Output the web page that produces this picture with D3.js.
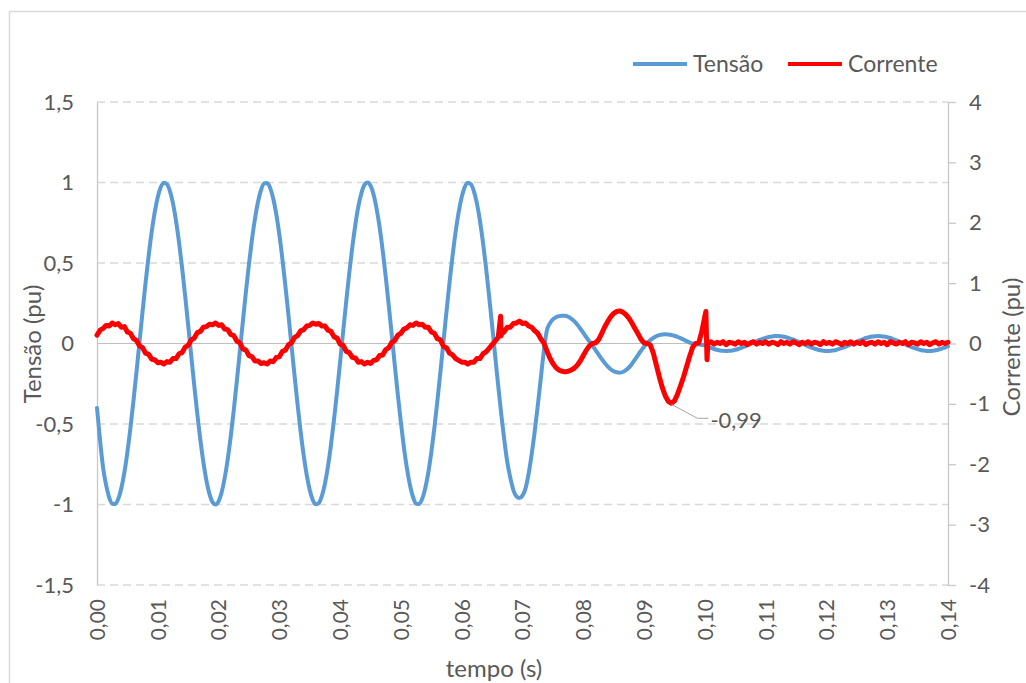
<!DOCTYPE html>
<html>
<head>
<meta charset="utf-8">
<script src="https://cdn.jsdelivr.net/npm/d3@7"></script>
<style>
  html, body { margin: 0; padding: 0; background: #fff; }
  svg { display: block; }
  text { font-family: Lato, "Open Sans", sans-serif; fill: #595959; }
</style>
</head>
<body>
<svg id="chart" width="1026" height="683"></svg>
<script>
// Sampling interval of the recorded waveforms (s)
const timeStep = 0.0005;

// Tensão (pu), one sample every 0.5 ms from 0 to 0.14 s
const tensao = [
  -0.40, -0.60, -0.77, -0.88, -0.955, -0.994, -0.997, -0.965, -0.899, -0.802,
  -0.675, -0.525, -0.356, -0.175, 0.013, 0.200, 0.380, 0.546, 0.694, 0.816,
  0.910, 0.972, 0.999, 0.990, 0.947, 0.870, 0.762, 0.627, 0.471, 0.297,
  0.113, -0.075, -0.261, -0.437, -0.598, -0.737, -0.851, -0.934, -0.985, -1.000,
  -0.980, -0.925, -0.837, -0.720, -0.578, -0.414, -0.236, -0.050, 0.138, 0.321,
  0.493, 0.647, 0.778, 0.882, 0.955, 0.994, 0.997, 0.965, 0.899, 0.802,
  0.675, 0.525, 0.356, 0.175, -0.013, -0.200, -0.380, -0.546, -0.694, -0.816,
  -0.910, -0.972, -0.999, -0.990, -0.947, -0.870, -0.762, -0.627, -0.471, -0.297,
  -0.113, 0.075, 0.261, 0.437, 0.598, 0.737, 0.851, 0.934, 0.985, 1.000,
  0.980, 0.925, 0.837, 0.720, 0.578, 0.414, 0.236, 0.050, -0.138, -0.321,
  -0.493, -0.647, -0.778, -0.882, -0.955, -0.994, -0.997, -0.965, -0.899, -0.802,
  -0.675, -0.525, -0.356, -0.175, 0.013, 0.200, 0.380, 0.546, 0.694, 0.816,
  0.910, 0.972, 0.999, 0.990, 0.947, 0.870, 0.762, 0.627, 0.471, 0.297,
  0.113, -0.075, -0.261, -0.437, -0.598, -0.737, -0.835, -0.91, -0.95, -0.96,
  -0.945, -0.90, -0.81, -0.69, -0.55, -0.39, -0.22, -0.05, 0.08, 0.125,
  0.150, 0.163, 0.170, 0.173, 0.172, 0.166, 0.155, 0.139, 0.118, 0.093,
  0.066, 0.039, 0.013, -0.013, -0.040, -0.068, -0.095, -0.120, -0.142, -0.160,
  -0.172, -0.179, -0.181, -0.177, -0.166, -0.149, -0.127, -0.100, -0.072, -0.045,
  -0.020, 0.002, 0.020, 0.034, 0.045, 0.052, 0.056, 0.057, 0.056, 0.053,
  0.048, 0.041, 0.033, 0.024, 0.015, 0.006, 0.000, -0.003, -0.006, -0.009,
  -0.011, -0.020, -0.027, -0.034, -0.039, -0.043, -0.045, -0.046, -0.045, -0.043,
  -0.039, -0.034, -0.027, -0.020, -0.011, -0.003, 0.006, 0.014, 0.022, 0.029,
  0.035, 0.040, 0.044, 0.046, 0.046, 0.045, 0.042, 0.037, 0.031, 0.025,
  0.017, 0.009, 0.000, -0.009, -0.017, -0.025, -0.031, -0.037, -0.042, -0.045,
  -0.046, -0.046, -0.044, -0.040, -0.035, -0.029, -0.022, -0.014, -0.006, 0.003,
  0.011, 0.020, 0.027, 0.034, 0.039, 0.043, 0.045, 0.046, 0.045, 0.043,
  0.039, 0.034, 0.027, 0.020, 0.011, 0.003, -0.006, -0.014, -0.022, -0.029,
  -0.035, -0.040, -0.044, -0.046, -0.046, -0.045, -0.042, -0.037, -0.031, -0.025,
  -0.017
];

// Corrente (pu), same sampling as tensao
const corrente = [
  0.14, 0.22, 0.25, 0.30, 0.29, 0.34, 0.31, 0.33, 0.27, 0.28,
  0.19, 0.17, 0.08, 0.05, -0.04, -0.07, -0.16, -0.18, -0.26, -0.27,
  -0.32, -0.31, -0.34, -0.30, -0.31, -0.25, -0.25, -0.17, -0.15, -0.06,
  -0.03, 0.06, 0.09, 0.18, 0.20, 0.27, 0.28, 0.32, 0.31, 0.34,
  0.30, 0.31, 0.24, 0.23, 0.15, 0.13, 0.04, 0.01, -0.09, -0.11,
  -0.20, -0.22, -0.29, -0.29, -0.33, -0.32, -0.34, -0.29, -0.30, -0.23,
  -0.22, -0.13, -0.11, -0.02, 0.01, 0.10, 0.13, 0.21, 0.23, 0.29,
  0.30, 0.34, 0.32, 0.33, 0.29, 0.29, 0.22, 0.20, 0.11, 0.09,
  -0.01, -0.03, -0.13, -0.15, -0.23, -0.24, -0.31, -0.30, -0.34, -0.31,
  -0.33, -0.28, -0.27, -0.20, -0.19, -0.10, -0.07, 0.02, 0.05, 0.14,
  0.17, 0.24, 0.26, 0.31, 0.30, 0.34, 0.31, 0.32, 0.27, 0.27,
  0.19, 0.17, 0.08, 0.06, -0.05, -0.07, -0.16, -0.19, -0.25, -0.28,
  -0.31, -0.31, -0.34, -0.31, -0.31, -0.25, -0.25, -0.17, -0.14, -0.08,
  -0.02, 0.04, 0.10, 0.15, 0.20, 0.27, 0.27, 0.33, 0.34, 0.37,
  0.33, 0.34, 0.29, 0.27, 0.21, 0.17, 0.08, 0.01, -0.12, -0.24,
  -0.33, -0.40, -0.44, -0.46, -0.47, -0.46, -0.44, -0.41, -0.36, -0.29,
  -0.20, -0.11, -0.04, 0.00, 0.01, 0.06, 0.16, 0.27, 0.36, 0.44,
  0.50, 0.53, 0.54, 0.52, 0.48, 0.42, 0.34, 0.25, 0.16, 0.07,
  0.01, 0.00, -0.02, -0.15, -0.35, -0.55, -0.73, -0.87, -0.96, -0.99,
  -0.95, -0.84, -0.70, -0.55, -0.38, -0.21, -0.06, 0.00, 0.01, 0.20,
  0.45, 0.00, 0.03, -0.01, 0.02, 0.00, 0.03, -0.02, 0.02, 0.01,
  -0.01, 0.03, 0.00, 0.02, -0.02, 0.01, 0.03, -0.01, 0.02, 0.00,
  0.03, -0.01, 0.02, 0.01, -0.02, 0.03, 0.00, 0.02, -0.01, 0.03,
  0.01, -0.02, 0.02, 0.00, 0.03, -0.01, 0.02, 0.01, -0.02, 0.03,
  0.00, 0.02, -0.01, 0.03, 0.01, -0.02, 0.02, 0.00, 0.03, -0.01,
  0.02, 0.00, 0.03, -0.02, 0.01, 0.02, -0.01, 0.03, 0.00, 0.02,
  -0.02, 0.03, 0.01, -0.01, 0.02, 0.00, 0.03, -0.02, 0.02, 0.01,
  -0.01, 0.03, 0.00, 0.02, -0.02, 0.01, 0.03, -0.01, 0.02, 0.00,
  0.02
];

// Short switching transients in the current, recorded between regular samples [t (s), pu]
const correnteTransientes = [
  [0.06640, 0.45], [0.06648, 0.13],
  [0.10017, 0.53], [0.10035, -0.27]
];

// Axis ticks
const tensaoTicks = [-1.5, -1, -0.5, 0, 0.5, 1, 1.5];
const correnteTicks = [-4, -3, -2, -1, 0, 1, 2, 3, 4];
const tempoTicks = [0, 0.01, 0.02, 0.03, 0.04, 0.05, 0.06, 0.07, 0.08, 0.09, 0.10, 0.11, 0.12, 0.13, 0.14];
const tempoTickLabels = ["0,00", "0,01", "0,02", "0,03", "0,04", "0,05", "0,06", "0,07",
                         "0,08", "0,09", "0,10", "0,11", "0,12", "0,13", "0,14"];

const seriesNames = ["Tensão", "Corrente"];
const seriesColors = ["#5b9bd5", "#ff0000"];

// ---- layout ----
const plot = { left: 97, right: 948, top: 102, bottom: 585 };
const svg = d3.select("#chart");
const decimalComma = v => String(v).replace(".", ",");

const x = d3.scaleLinear().domain([0, 0.14]).range([plot.left, plot.right]);
const yL = d3.scaleLinear().domain([-1.5, 1.5]).range([plot.bottom, plot.top]);
const yR = d3.scaleLinear().domain([-4, 4]).range([plot.bottom, plot.top]);

// chart frame
svg.append("rect")
  .attr("x", 9.5).attr("y", 11.5).attr("width", 1100).attr("height", 700)
  .attr("fill", "none").attr("stroke", "#d9d9d9").attr("stroke-width", 1.5);

// dashed horizontal gridlines
svg.append("g").selectAll("line")
  .data(tensaoTicks.filter(v => v !== 0))
  .join("line")
  .attr("x1", plot.left).attr("x2", plot.right)
  .attr("y1", d => yL(d)).attr("y2", d => yL(d))
  .attr("stroke", "#d9d9d9").attr("stroke-width", 1.5)
  .attr("stroke-dasharray", "8,5");

// horizontal axis line at zero
svg.append("line")
  .attr("x1", plot.left).attr("x2", plot.right)
  .attr("y1", yL(0)).attr("y2", yL(0))
  .attr("stroke", "#bfbfbf").attr("stroke-width", 1);

// left axis (Tensão)
const axL = svg.append("g")
  .attr("transform", `translate(${plot.left},0)`)
  .call(d3.axisLeft(yL).tickValues(tensaoTicks).tickSize(0).tickPadding(23).tickFormat(decimalComma));
axL.select(".domain").attr("stroke", "#c8c8c8").attr("stroke-width", 1.3);
axL.selectAll("text").attr("font-size", 22).attr("font-family", null).style("fill", "#595959");

// right axis (Corrente)
const axR = svg.append("g")
  .attr("transform", `translate(${plot.right},0)`)
  .call(d3.axisRight(yR).tickValues(correnteTicks).tickSize(8).tickSizeOuter(0).tickPadding(13).tickFormat(decimalComma));
axR.select(".domain").attr("stroke", "#c8c8c8").attr("stroke-width", 1.3);
axR.selectAll("line").attr("stroke", "#c8c8c8").attr("stroke-width", 1.3);
axR.selectAll("text").attr("font-size", 22).attr("font-family", null).style("fill", "#595959");

// bottom axis labels (rotated)
const axB = svg.append("g")
  .attr("transform", `translate(0,${plot.bottom})`)
  .call(d3.axisBottom(x).tickValues(tempoTicks).tickSize(0)
        .tickFormat((d, i) => tempoTickLabels[i]));
axB.select(".domain").remove();
axB.selectAll("text")
  .attr("font-size", 21).attr("font-family", null).style("fill", "#595959")
  .attr("text-anchor", "end")
  .attr("transform", "translate(0,14) rotate(-90)")
  .attr("x", 0).attr("y", 0).attr("dy", "0.35em");

// axis titles
svg.append("text").text("tempo (s)")
  .attr("x", 494).attr("y", 677).attr("text-anchor", "middle").attr("font-size", 24);
svg.append("text").text("Tensão (pu)")
  .attr("transform", "translate(41,344) rotate(-90)")
  .attr("text-anchor", "middle").attr("font-size", 24);
svg.append("text").text("Corrente (pu)")
  .attr("transform", "translate(1020,347) rotate(-90)")
  .attr("text-anchor", "middle").attr("font-size", 24);

// ---- series ----
const tensaoData = tensao.map((v, i) => [i * timeStep, v]);
const correnteData = corrente.map((v, i) => [i * timeStep, v])
  .concat(correnteTransientes)
  .sort((a, b) => a[0] - b[0]);

svg.append("path")
  .datum(tensaoData)
  .attr("fill", "none").attr("stroke", seriesColors[0]).attr("stroke-width", 4)
  .attr("stroke-linejoin", "round").attr("stroke-linecap", "round")
  .attr("d", d3.line().x(d => x(d[0])).y(d => yL(d[1])).curve(d3.curveMonotoneX));

svg.append("path")
  .datum(correnteData)
  .attr("fill", "none").attr("stroke", seriesColors[1]).attr("stroke-width", 5)
  .attr("stroke-linejoin", "round").attr("stroke-linecap", "round")
  .attr("d", d3.line().x(d => x(d[0])).y(d => yR(d[1])));

// data label on the current minimum
const minPt = correnteData.reduce((a, b) => (b[1] < a[1] ? b : a));
const mx = x(minPt[0]), my = yR(minPt[1]);
svg.append("polyline")
  .attr("points", `${mx},${my + 1} ${mx + 26},${my + 15} ${mx + 37},${my + 15}`)
  .attr("fill", "none").attr("stroke", "#a6a6a6").attr("stroke-width", 1);
svg.append("text")
  .text(minPt[1].toFixed(2).replace(".", ","))
  .attr("x", mx + 39).attr("y", my + 17).attr("dy", "0.35em")
  .attr("font-size", 22);

// ---- legend ----
const legendX = [633, 788];
const legend = svg.append("g");
seriesNames.forEach((name, i) => {
  legend.append("line")
    .attr("x1", legendX[i]).attr("x2", legendX[i] + 54)
    .attr("y1", 64).attr("y2", 64)
    .attr("stroke", seriesColors[i]).attr("stroke-width", 4);
  legend.append("text").text(name)
    .attr("x", legendX[i] + 60).attr("y", 64).attr("dy", "0.35em")
    .attr("font-size", 23);
});
</script>
</body>
</html>
